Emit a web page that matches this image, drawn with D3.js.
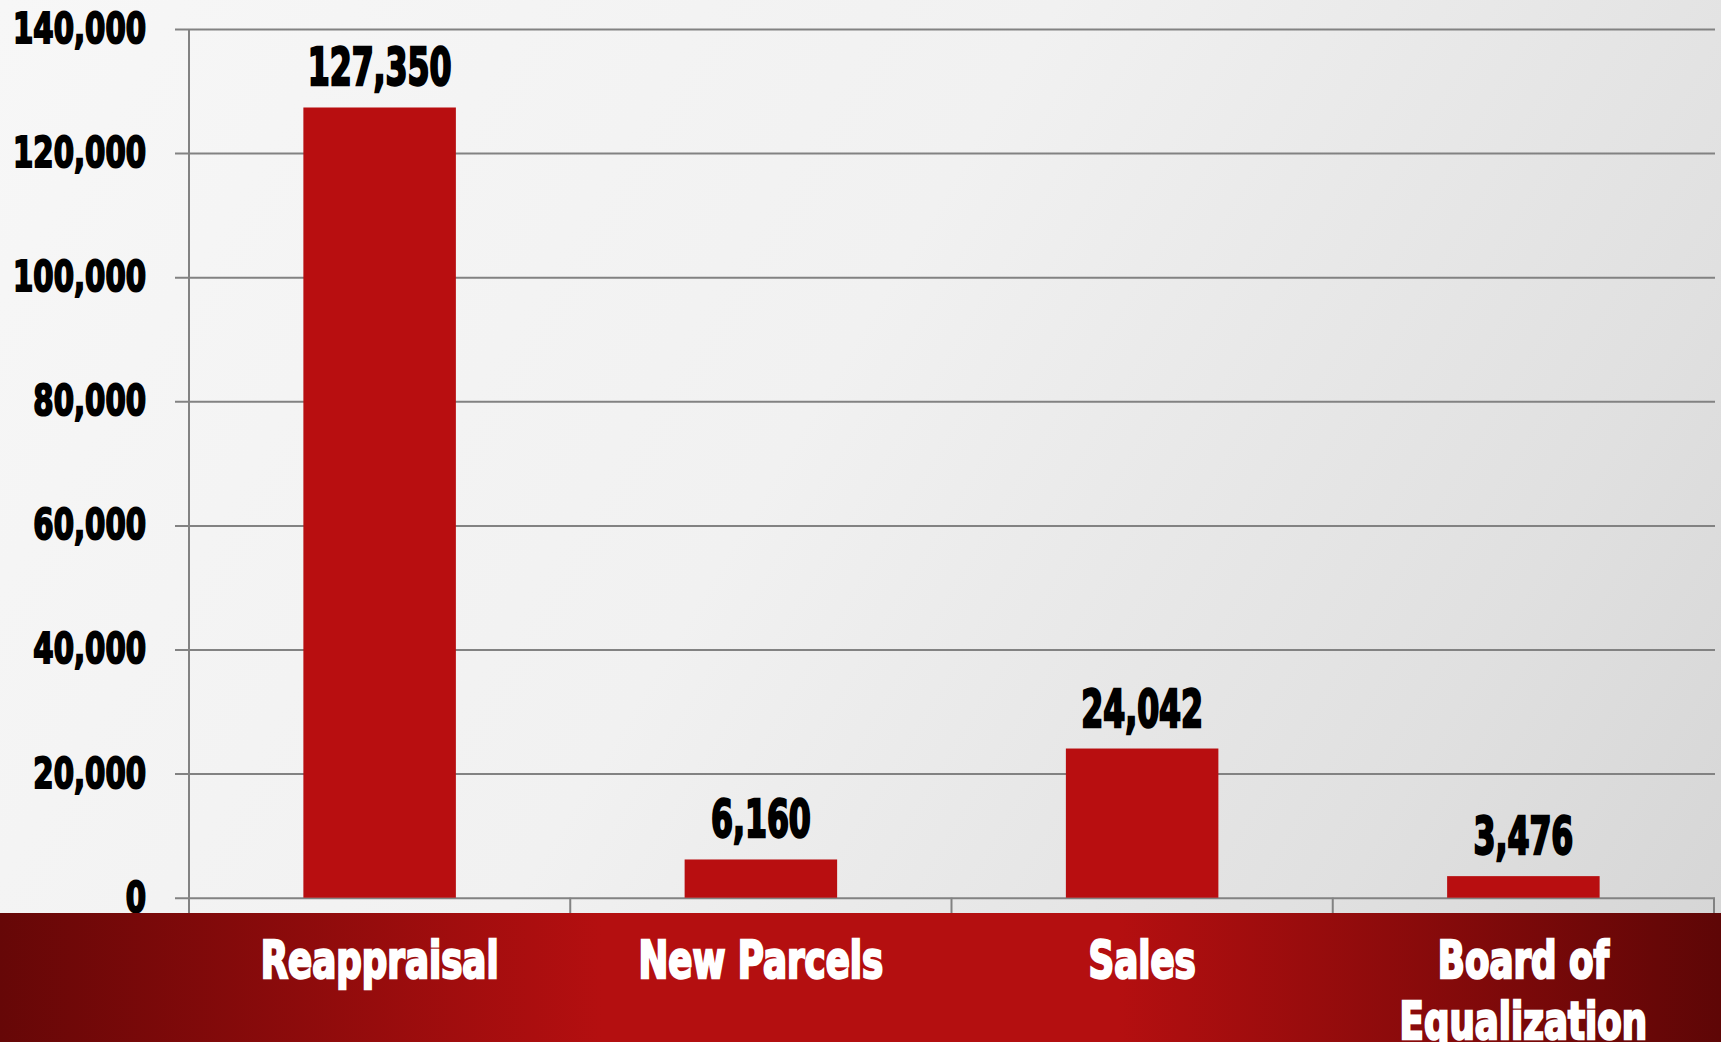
<!DOCTYPE html>
<html><head><meta charset="utf-8">
<script src="https://cdn.jsdelivr.net/npm/d3@7"></script>
<style>
html,body{margin:0;padding:0;overflow:hidden;background:#eee;}
svg{display:block;}
</style></head>
<body>
<svg id="chart" width="1721" height="1042"></svg>
<script>
const categories = ["Reappraisal", "New Parcels", "Sales", "Board of\nEqualization"];
const values = [127350, 6160, 24042, 3476];
const yTicks = [0, 20000, 40000, 60000, 80000, 100000, 120000, 140000];

const W = 1721, H = 1042;
const margin = {left: 189, right: 7, top: 29};
const svg = d3.select("#chart");
const defs = svg.append("defs");

const bg = defs.append("linearGradient").attr("id","bg").attr("gradientUnits","userSpaceOnUse")
  .attr("x1",0).attr("y1",0).attr("x2",1721).attr("y2",1042);
[["0%","#f7f7f7"],["45%","#f1f1f1"],["80%","#e0e0e0"],["100%","#d4d4d4"]].forEach(s=>
  bg.append("stop").attr("offset",s[0]).attr("stop-color",s[1]));
const band = defs.append("linearGradient").attr("id","band").attr("x1",0).attr("y1",0).attr("x2",1).attr("y2",0);
[["0%","#660707"],["35%","#b40f10"],["65%","#b40f10"],["100%","#5e0606"]].forEach(s=>
  band.append("stop").attr("offset",s[0]).attr("stop-color",s[1]));

svg.append("rect").attr("width",W).attr("height",H).attr("fill","url(#bg)");

const x0 = margin.left, x1 = W - margin.right;
const yTop = margin.top, yZero = 897.7, bandTop = 913;
const x = d3.scaleBand().domain(categories).range([x0, x1]).paddingInner(0.6).paddingOuter(0.3);
const y = d3.scaleLinear().domain([0, 140000]).range([yZero, yTop]);

const font = "'Liberation Sans Narrow','DejaVu Sans Condensed','Arial Narrow',sans-serif";

function measure(str, size){
  const t = svg.append("text").attr("font-family",font).attr("font-weight","bold").attr("font-size",size).text(str);
  const w = t.node().getComputedTextLength(); t.remove(); return w;
}
const tickSize = 43, valSize = 52, catSize = 52;
const sxTick = 133 / measure("140,000", tickSize);
const sxVal = 144 / measure("127,350", valSize);
const sxCat = 238 / measure("Reappraisal", catSize);

// gridlines + y axis
const yAxis = d3.axisLeft(y).tickValues(yTicks).tickSize(-(x1 - x0) - 1).tickSizeOuter(0).tickFormat(d3.format(","));
const ga = svg.append("g").attr("transform",`translate(${x0},0)`).call(yAxis);
ga.select(".domain").remove();
ga.selectAll(".tick line").attr("stroke","#828282").attr("stroke-width",2).attr("x1",-14);
ga.selectAll(".tick text")
  .attr("x",0).attr("dy","0.36em")
  .attr("font-family",font).attr("font-weight","bold").attr("font-size",tickSize)
  .attr("fill","#000").attr("stroke","#000").attr("stroke-width",2)
  .attr("text-anchor","end")
  .attr("transform", `translate(${146 - x0},-2) scale(${sxTick},1)`);

// vertical axis line
svg.append("line").attr("x1",x0).attr("x2",x0).attr("y1",yTop).attr("y2",bandTop)
  .attr("stroke","#828282").attr("stroke-width",2);

// category tick marks at band boundaries
const step = x.step();
const bounds = categories.map(c => x(c) + x.bandwidth() + step*0.3);
svg.append("g").selectAll("line").data(bounds).join("line")
  .attr("x1",d=>d).attr("x2",d=>d).attr("y1",yZero).attr("y2",bandTop)
  .attr("stroke","#828282").attr("stroke-width",2);

// bars
svg.append("g").selectAll("rect").data(values).join("rect")
  .attr("x",(d,i)=>x(categories[i])).attr("width",x.bandwidth())
  .attr("y",d=>y(d)).attr("height",d=>y(0)-y(d))
  .attr("fill","#b80e10");

// value labels
svg.append("g").selectAll("text").data(values).join("text")
  .attr("transform",(d,i)=>`translate(${x(categories[i]) + x.bandwidth()/2},${y(d) - 22}) scale(${sxVal},1)`)
  .attr("text-anchor","middle")
  .attr("font-family",font).attr("font-weight","bold").attr("font-size",valSize)
  .attr("fill","#000").attr("stroke","#000").attr("stroke-width",2.4)
  .text(d=>d3.format(",")(d));

// bottom band
svg.append("rect").attr("x",0).attr("y",bandTop).attr("width",W).attr("height",H-bandTop).attr("fill","url(#band)");

// category labels
const cl = svg.append("g").selectAll("text").data(categories).join("text")
  .attr("transform",d=>`translate(${x(d) + x.bandwidth()/2},978) scale(${sxCat},1)`)
  .attr("text-anchor","middle")
  .attr("font-family",font).attr("font-weight","bold").attr("font-size",catSize)
  .attr("fill","#fff").attr("stroke","#fff").attr("stroke-width",2.4);
cl.each(function(d){
  const lines = d.split("\n");
  d3.select(this).selectAll("tspan").data(lines).join("tspan")
    .attr("x",0).attr("dy",(l,j)=> j===0 ? 0 : 61).text(l=>l);
});
</script>
</body></html>
